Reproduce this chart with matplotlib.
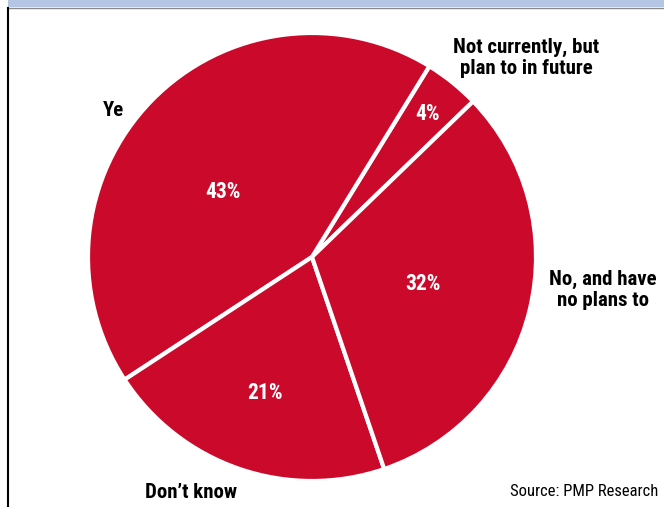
import numpy as np
import matplotlib.pyplot as plt
from matplotlib.patches import Rectangle

# Survey answers (counter-clockwise from the small slice)
labels = ['Not currently, but\nplan to in future', 'Ye', 'Don\u2019t know', 'No, and have\nno plans to']
shares = [4, 43, 21, 32]

W, H = 664, 507
red = '#cb0a2b'
font = ['Roboto Condensed', 'DejaVu Sans']

fig = plt.figure(figsize=(W / 100, H / 100), dpi=100)
ax = fig.add_axes([0, 0, 1, 1])

# header band and left rule
ax.add_patch(Rectangle((8, H - 7), W - 8, 7, color='#b4c6e4', lw=0))
ax.plot([8, W], [H - 7.5, H - 7.5], color='#8a8a8a', lw=1)
ax.plot([8, 8], [0, H - 8], color='black', lw=1.5)

cx, cy, R = 312, H - 257, 224
wedges, _ = ax.pie(shares, startangle=44, counterclock=True, colors=[red] * 4,
                   center=(cx, cy), radius=R,
                   wedgeprops=dict(edgecolor='white', linewidth=3))
ax.set_aspect('equal')
ax.set_xlim(0, W)
ax.set_ylim(0, H)
ax.axis('off')

# percentage labels inside the slices
rfrac = [0.82, 0.49, 0.64, 0.51]
dang = [0, 8, 0, 0]
for w, v, rf, da in zip(wedges, shares, rfrac, dang):
    a = np.deg2rad((w.theta1 + w.theta2) / 2 + da)
    ax.text(cx + rf * R * np.cos(a), cy + rf * R * np.sin(a), f'{v}%',
            color='white', fontsize=15.5, fontweight='bold', family=font,
            ha='center', va='center')

# category labels around the pie
pos = [(526, 58), (113, 110), (191, 492), (603, 290)]
for lab, (x, y) in zip(labels, pos):
    ax.text(x, H - y, lab, fontsize=15, fontweight='bold', family=font,
            ha='center', va='center', linespacing=1.08)

ax.text(658, H - 492, 'Source: PMP Research', fontsize=12, family=font,
        ha='right', va='center')

fig.savefig('out.png', dpi=100)
